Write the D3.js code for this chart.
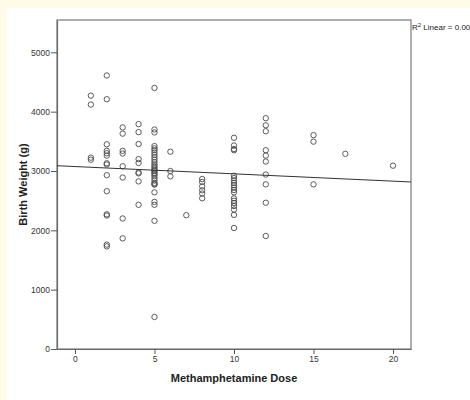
<!DOCTYPE html>
<html>
<head>
<meta charset="utf-8">
<script src="https://cdn.jsdelivr.net/npm/d3@7"></script>
<style>
  body { margin: 0; background: #fffbe6; }
  text { font-family: "Liberation Sans", Arial, sans-serif; }
</style>
</head>
<body>
<div id="chart"></div>
<script>
var dose1 = [4270, 4120, 3225, 3190];
var dose2 = [4610, 4210, 3450, 3340, 3300, 3260, 3130, 3110, 2930, 2660, 2270, 2250, 1760, 1730];
var dose3 = [3735, 3630, 3340, 3295, 3080, 2890, 2200, 1865];
var dose4 = [3790, 3655, 3455, 3200, 3135, 2975, 2960, 2825, 2430];
var dose5 = [4400, 3700, 3650, 3420, 3380, 3350, 3310, 3270, 3230, 3190, 3150, 3110, 3080, 3050,
             3020, 3000, 2970, 2950, 2920, 2880, 2840, 2800, 2780, 2770, 2640, 2480, 2430, 2160, 540];
var dose6 = [3325, 3000, 2910];
var dose7 = [2255];
var dose8 = [2865, 2815, 2740, 2675, 2620, 2540];
var dose10 = [3560, 3430, 3370, 3350, 2920, 2880, 2840, 2800, 2760, 2720, 2680, 2640,
              2540, 2500, 2460, 2410, 2350, 2260, 2040];
var dose12 = [3890, 3770, 3670, 3350, 3260, 3160, 2940, 2775, 2465, 1905];
var dose15 = [3605, 3495, 2775];
var dose17 = [3290];
var dose20 = [3090];

var doses = [1, 2, 3, 4, 5, 6, 7, 8, 10, 12, 15, 17, 20];
var weightsByDose = [dose1, dose2, dose3, dose4, dose5, dose6, dose7, dose8, dose10, dose12, dose15, dose17, dose20];

var xTicks = [0, 5, 10, 15, 20];
var yTicks = [0, 1000, 2000, 3000, 4000, 5000];

// fit line as shown in the chart
var fitIntercept = 3075;
var fitSlope = -12.3;
var r2Label = "0.00";

var data = [];
doses.forEach(function(d, i) {
  weightsByDose[i].forEach(function(w) { data.push({dose: d, weight: w}); });
});

var W = 470, H = 400;
var margin = {top: 20, right: 59, bottom: 51, left: 57};
var width = W - margin.left - margin.right,
    height = H - margin.top - margin.bottom;

var svg = d3.select("#chart").append("svg")
  .attr("width", W).attr("height", H);

// white output panel
svg.append("rect")
  .attr("x", 7).attr("y", 8)
  .attr("width", W - 7).attr("height", H - 8)
  .attr("fill", "#ffffff");

var g = svg.append("g")
  .attr("transform", "translate(" + margin.left + "," + margin.top + ")");

var x = d3.scaleLinear().domain([-1.13, 21.13]).range([0, width]);
var y = d3.scaleLinear().domain([0, 5545]).range([height, 0]);

// frame
g.append("rect")
  .attr("width", width).attr("height", height)
  .attr("fill", "none")
  .attr("stroke", "#7a7a7a")
  .attr("stroke-width", 1.2);

// axes
var xAxis = g.append("g")
  .attr("transform", "translate(0," + height + ")")
  .call(d3.axisBottom(x).tickValues(xTicks).tickFormat(d3.format("d"))
    .tickSize(5).tickPadding(2).tickSizeOuter(0));
var yAxis = g.append("g")
  .call(d3.axisLeft(y).tickValues(yTicks).tickFormat(d3.format("d"))
    .tickSize(6).tickPadding(1).tickSizeOuter(0));

[xAxis, yAxis].forEach(function(a) {
  a.select(".domain").attr("stroke", "#6a6a6a").attr("stroke-width", 1.2);
  a.selectAll(".tick line").attr("stroke", "#555");
  a.selectAll(".tick text")
    .attr("fill", "#333")
    .style("font-size", "8.5px")
    .style("font-family", "'Liberation Sans', Arial, sans-serif");
});

// axis titles
svg.append("text")
  .attr("x", margin.left + width / 2)
  .attr("y", 382)
  .attr("text-anchor", "middle")
  .style("font-size", "11px")
  .style("font-weight", "bold")
  .attr("fill", "#222")
  .text("Methamphetamine Dose");

svg.append("text")
  .attr("transform", "translate(27," + (margin.top + height / 2) + ") rotate(-90)")
  .attr("text-anchor", "middle")
  .style("font-size", "11px")
  .style("font-weight", "bold")
  .attr("fill", "#222")
  .text("Birth Weight (g)");

// points
g.append("g")
  .selectAll("circle")
  .data(data)
  .enter()
  .append("circle")
    .attr("cx", function(d) { return x(d.dose); })
    .attr("cy", function(d) { return y(d.weight); })
    .attr("r", 2.7)
    .attr("fill", "none")
    .attr("stroke", "#4a4a4a")
    .attr("stroke-width", 0.9);

// fit line
var xd = x.domain();
g.append("line")
  .attr("x1", x(xd[0])).attr("y1", y(fitIntercept + fitSlope * xd[0]))
  .attr("x2", x(xd[1])).attr("y2", y(fitIntercept + fitSlope * xd[1]))
  .attr("stroke", "#333")
  .attr("stroke-width", 1);

// R2 label
var r2 = svg.append("text")
  .attr("x", margin.left + width + 1)
  .attr("y", 30)
  .style("font-size", "8px")
  .attr("fill", "#222");
r2.append("tspan").text("R");
r2.append("tspan").attr("dy", -3).style("font-size", "6px").text("2");
r2.append("tspan").attr("dy", 3).text(" Linear = " + r2Label);
</script>
</body>
</html>
